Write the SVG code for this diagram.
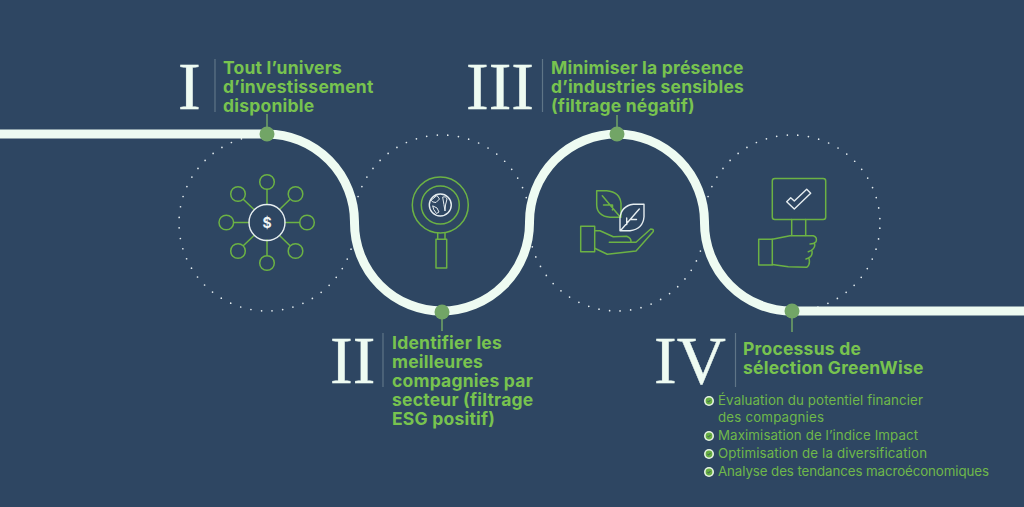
<svg xmlns="http://www.w3.org/2000/svg" width="1024" height="507" viewBox="0 0 1024 507">
<defs>
<g id="bullet"><circle r="5" fill="#e6f4e2"/><circle r="3.400" fill="#67ae42"/><path d="M-1.500 0.300L-0.500 1L1.500 -1" fill="none" stroke="#2e4662" stroke-width="0.900"/></g>
</defs>
<style>
.dots{fill:none;stroke:#e3ebee;stroke-width:1.700;stroke-linecap:round;stroke-dasharray:0 10.630;stroke-dashoffset:5.300}
.road{fill:none;stroke:#eefbf2;stroke-width:9}
.stem{stroke:#72a566;stroke-width:1.500;fill:none}
.pin{fill:#72a566}
.sep{stroke:#5f7587;stroke-width:1.200}
.num{font-family:"Liberation Serif",serif;font-size:68px;fill:#eefbf2;stroke:#eefbf2;stroke-width:.4}
.t{font-family:Inter,"Liberation Sans",sans-serif;font-size:17.500px;font-weight:700;letter-spacing:.22px;fill:#78c34f}
.li{font-family:Inter,"Liberation Sans",sans-serif;font-size:13.300px;fill:#6fb84a}
.g{fill:none;stroke:#6cb244;stroke-width:1.500;stroke-linejoin:round;stroke-linecap:round}
.w{fill:none;stroke:#e6edf0;stroke-width:1.400;stroke-linejoin:round;stroke-linecap:round}
</style>
<rect width="1024" height="507" fill="#2e4662"/>
<g id="dotted-circles">
<circle class="dots" cx="267" cy="223" r="88"/>
<circle class="dots" cx="442" cy="223" r="88"/>
<circle class="dots" cx="617" cy="223" r="88" style="stroke-dashoffset:3.300"/>
<circle class="dots" cx="792" cy="223" r="88"/>
</g>
<g id="connectors">
<path class="road" d="M0 134H267A88 88 0 0 1 354.500 222.500A88 88 0 0 0 442 311A88 88 0 0 0 529.500 222.500A88 88 0 0 1 617 134A88 88 0 0 1 704.500 222.500A88 88 0 0 0 792 311H1024"/>
<path class="stem" d="M267 114V134M442 312V331M617 115V134M792 311V332"/>
</g>
<g id="node-1">
<circle class="pin" cx="267" cy="134" r="7.500"/>
<text class="num" x="178" y="109">I</text>
<path class="sep" d="M215 59V112"/>
<text class="t" x="223" y="74">Tout l’univers</text>
<text class="t" x="223" y="93">d’investissement</text>
<text class="t" x="223" y="112">disponible</text>
<g id="icon-1">
<path class="g" d="M267 189.500V204.500M267 240V255.500M234 222.500H249M285 222.500H299.500M243.500 199.500L254 209.500M289.800 199.500L279.500 209.500M243.500 245.500L254 235.500M289.800 245.500L279.500 235.500"/>
<circle class="g" cx="267" cy="182" r="7.300"/>
<circle class="g" cx="267" cy="263" r="7.300"/>
<circle class="g" cx="226.300" cy="222.500" r="7.300"/>
<circle class="g" cx="307" cy="222.500" r="7.300"/>
<circle class="g" cx="238" cy="194" r="7.300"/>
<circle class="g" cx="295.500" cy="194" r="7.300"/>
<circle class="g" cx="238" cy="251" r="7.300"/>
<circle class="g" cx="295.500" cy="251" r="7.300"/>
<circle class="w" cx="267" cy="222.500" r="18"/>
<text x="267" y="228" text-anchor="middle" font-family="Inter,'Liberation Sans',sans-serif" font-size="14" font-weight="700" fill="#eef3f4">$</text>
</g>
</g>
<g id="node-2">
<circle class="pin" cx="442" cy="312" r="7.500"/>
<text class="num" x="330" y="383">II</text>
<path class="sep" d="M383 333V387"/>
<text class="t" x="392" y="349">Identifier les</text>
<text class="t" x="392" y="368">meilleures</text>
<text class="t" x="392" y="387">compagnies par</text>
<text class="t" x="392" y="406">secteur (filtrage</text>
<text class="t" x="392" y="425">ESG positif)</text>
<g id="icon-2">
<circle class="g" cx="440.300" cy="205" r="28"/>
<circle class="g" cx="440.300" cy="205" r="19"/>
<path class="g" d="M437.700 233V239.300M445 233V239.300"/>
<rect class="g" x="436" y="239.300" width="10.700" height="28.700"/>
<circle class="w" cx="440.300" cy="205" r="11"/>
<path class="w" style="stroke-width:1" d="M431.500 200L435 197L437 195.500L439.500 199L436 202.500L433 202ZM433 206L437 208L439 212L436.500 213.500L434 210ZM443 197Q446 196 447 199L445.500 205L445 211L444 205Z"/>
</g>
</g>
<g id="node-3">
<circle class="pin" cx="617" cy="134" r="7.500"/>
<text class="num" x="466" y="109">III</text>
<path class="sep" d="M542.500 59V112"/>
<text class="t" x="551" y="74">Minimiser la présence</text>
<text class="t" x="551" y="93">d’industries sensibles</text>
<text class="t" x="551" y="112">(filtrage négatif)</text>
<g id="icon-3">
<path class="g" d="M596.700 190.700H606.700Q620 192 621 203.300V217.300H610Q597 216 596.700 205ZM602.300 195.700L620 216.700M603.500 205H612.500M612.500 205V210"/>
<path class="w" d="M644 204.300H633.300Q621 206 620 218.300V230.700H630Q643 229 644 216.700ZM621 230L639.300 209M626.700 218V224.500M630 219.500H636.500"/>
<rect class="g" x="580.700" y="226.300" width="14" height="25.400"/>
<path class="g" d="M594.700 230.700H600L613.300 236.700L626.700 236.300Q631.500 238 631 242.300H609.300M631 242.300H636L650.700 229Q654 229 653.300 231.500L636 251L607.300 254.300L594.700 248.300"/>
</g>
</g>
<g id="node-4">
<circle class="pin" cx="792" cy="311" r="7.500"/>
<text class="num" x="654" y="383">IV</text>
<path class="sep" d="M735.500 333V387"/>
<text class="t" x="743" y="355">Processus de</text>
<text class="t" x="743" y="374">sélection GreenWise</text>
<g id="icon-4">
<rect class="g" x="772.300" y="178.500" width="53.400" height="41" rx="2.500"/>
<path class="w" d="M786.700 201.700L794.300 209L810.700 193.300L806.700 189.300L794.300 201L790.700 197.700Z"/>
<path class="g" d="M791.700 219.500V235.500M805.700 219.500V235.500"/>
<rect class="g" x="758.700" y="239.300" width="13.600" height="25.700"/>
<path class="g" d="M772.300 239.300L790 235.700H813.300Q817.500 237 816 241.700Q814 244 810 244M814.500 243.500Q816 249 808.300 251.700M812 251Q813 257 806 259M809 258.500Q810.500 265 806.700 267.300L788.300 266.700L772.300 264.500"/>
</g>
<g id="list">
<use href="#bullet" x="709" y="401"/>
<use href="#bullet" x="709" y="436"/>
<use href="#bullet" x="709" y="454"/>
<use href="#bullet" x="709" y="472"/>
<text class="li" x="718" y="405" textLength="205">Évaluation du potentiel financier</text>
<text class="li" x="718" y="422" textLength="106">des compagnies</text>
<text class="li" x="718" y="440" textLength="200">Maximisation de l’indice Impact</text>
<text class="li" x="718" y="458" textLength="209">Optimisation de la diversification</text>
<text class="li" x="718" y="476" textLength="271">Analyse des tendances macroéconomiques</text>
</g>
</g>
</svg>
